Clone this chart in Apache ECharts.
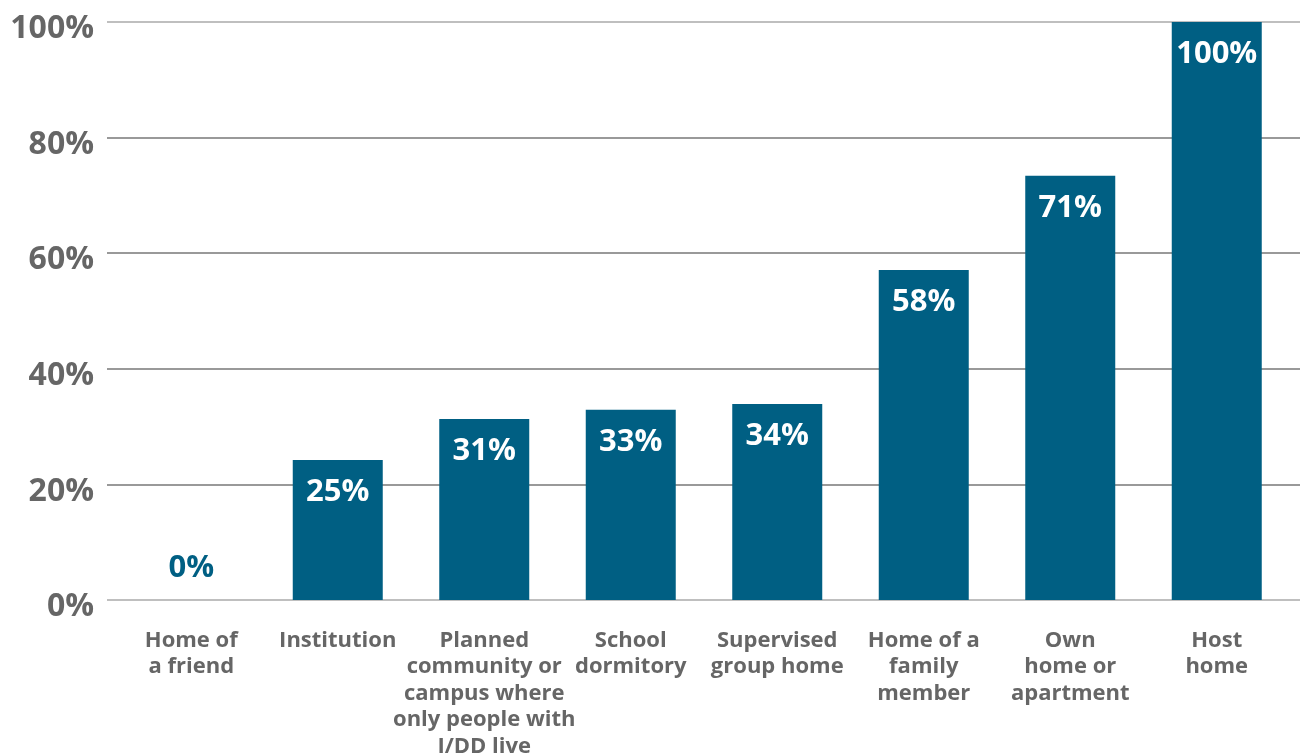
<!DOCTYPE html>
<html><head><meta charset="utf-8">
<script src="https://cdn.jsdelivr.net/npm/echarts@6/dist/echarts.min.js"></script>
<style>html,body{margin:0;padding:0;background:#fff}#c{width:1300px;height:754px}</style>
</head><body><div id="c"></div>
<script>
const categories = ["Home of\na friend", "Institution", "Planned\ncommunity or\ncampus where\nonly people with\nI/DD live", "School\ndormitory", "Supervised\ngroup home", "Home of a\nfamily\nmember", "Own\nhome or\napartment", "Host\nhome"];
const values = [0, 24.2, 31.3, 32.9, 33.9, 57.1, 73.4, 100];
const valueLabels = ["0%", "25%", "31%", "33%", "34%", "58%", "71%", "100%"];
const yTicks = [0, 20, 40, 60, 80, 100];

const FONT = '"Open Sans", sans-serif';
const chart = echarts.init(document.getElementById('c'));
const data = values.map((v, i) => {
  const item = { value: v };
  if (v === 0) {
    item.label = { position: 'top', distance: 16, color: '#005f83' };
  }
  return item;
});
chart.setOption({
  animation: false,
  grid: [
    { left: 118, right: 10, top: 22, bottom: 154, outerBoundsMode: 'none', containLabel: false },
    { left: 107, right: 0, top: 22, bottom: 154, outerBoundsMode: 'none', containLabel: false }
  ],
  xAxis: [
    { type: 'category', gridIndex: 0, data: categories,
      axisLine: { show: false }, axisTick: { show: false },
      axisLabel: { interval: 0, color: '#666', fontFamily: FONT, fontWeight: 'bold', fontSize: 22, lineHeight: 26.5, margin: 27 } },
    { type: 'category', gridIndex: 1, data: [''], show: false }
  ],
  yAxis: [
    { type: 'value', gridIndex: 0, min: 0, max: 100, interval: 20, show: false },
    { type: 'value', gridIndex: 1, min: 0, max: 100, interval: 20,
      axisLine: { show: false }, axisTick: { show: false },
      splitLine: { lineStyle: { color: ['#aaa', '#777', '#777', '#777', '#777', '#aaa'], width: 1.5 } },
      axisLabel: { color: '#666', fontFamily: FONT, fontWeight: 'bold', fontSize: 32, margin: 13,
        verticalAlign: 'top', lineHeight: 14,
        formatter: v => yTicks.includes(v) ? v + '%' : '' } }
  ],
  series: [{
    type: 'bar', xAxisIndex: 0, yAxisIndex: 0, data: data, barWidth: 90,
    itemStyle: { color: '#005f83' },
    label: { show: true, position: 'insideTop', distance: 17, color: '#fff',
      fontFamily: FONT, fontWeight: 'bold', fontSize: 31,
      formatter: p => valueLabels[p.dataIndex] },
    z: 3
  }]
});
</script></body></html>
